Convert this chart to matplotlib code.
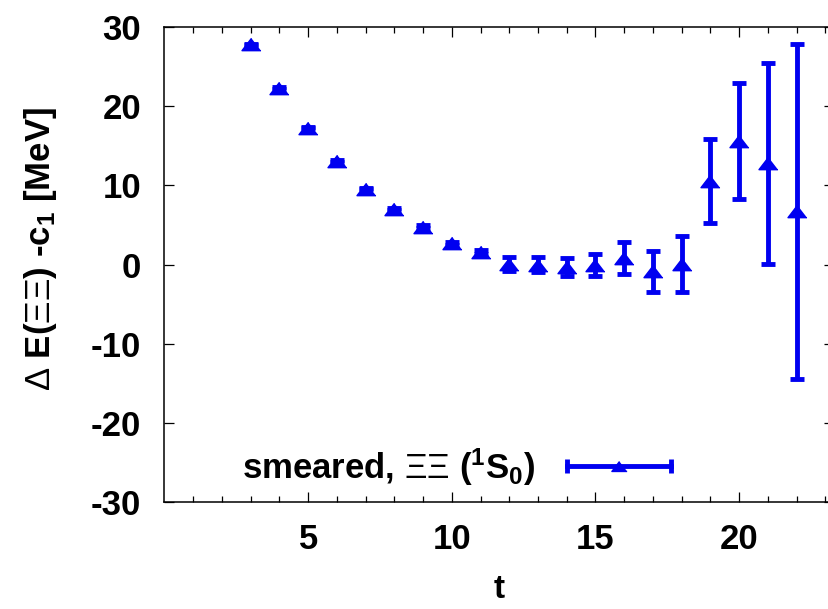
import numpy as np
import matplotlib
matplotlib.use("Agg")
from matplotlib import pyplot as plt
from matplotlib.lines import Line2D
from matplotlib.legend_handler import HandlerBase
from matplotlib.container import ErrorbarContainer

plt.rcParams['font.family'] = ['Liberation Sans', 'DejaVu Sans']
plt.rcParams['mathtext.fontset'] = 'custom'
plt.rcParams['mathtext.rm'] = 'Liberation Sans'
plt.rcParams['mathtext.bf'] = 'Liberation Sans:bold'
plt.rcParams['mathtext.it'] = 'Liberation Sans:italic'
plt.rcParams['axes.unicode_minus'] = False

# data
t = [3, 4, 5, 6, 7, 8, 9, 10, 11, 12, 13, 14, 15, 16, 17, 18, 19, 20, 21, 22]
dE = [27.8, 22.3, 17.3, 13.1, 9.6, 7.0, 4.8, 2.7, 1.6, 0.1, 0.0, -0.35, -0.05, 0.8,
      -0.85, 0.1, 10.6, 15.6, 12.8, 6.7]
dE_err = [0.1, 0.1, 0.1, 0.1, 0.1, 0.12, 0.15, 0.2, 0.25, 0.9, 0.95, 1.15, 1.35, 2.0,
          2.6, 3.55, 5.3, 7.3, 12.7, 21.2]

blue = '#0000f0'
tri = [(0, 0.65), (-1, -0.65), (1, -0.65)]


class HorizontalBar(HandlerBase):
    # gnuplot style key sample: horizontal bar with caps and point in the middle
    def create_artists(self, legend, orig_handle, xdescent, ydescent, width, height,
                       fontsize, trans):
        y = (height - ydescent) / 2.
        x0, x1 = -xdescent, width - xdescent
        bar = Line2D([x0, x1], [y, y], color=blue, lw=3.5)
        caps = Line2D([x0, x1], [y, y], ls='none', marker='|', ms=10, mew=3.5, color=blue)
        mid = Line2D([(x0 + x1) / 2], [y], ls='none', marker=tri, ms=11, color=blue)
        for a in (bar, caps, mid):
            a.set_transform(trans)
        return [bar, caps, mid]


fig = plt.figure(figsize=(8.29, 6.09), dpi=100)
ax = fig.add_axes([164.5 / 829, 107 / 609, 669.4 / 829, 475 / 609])

eb = ax.errorbar(t, dE, yerr=dE_err, fmt='none', ecolor=blue, elinewidth=3.5,
                 capsize=5, capthick=3.5)
ax.plot(t, dE, ls='none', marker=tri, ms=13.7, color=blue)

ax.set_xlim(0, 23.3)
ax.set_ylim(-30, 30)
ax.set_xticks([5, 10, 15, 20])
ax.set_xticks(np.arange(1, 24), minor=True)
ax.set_yticks(np.arange(-30, 31, 10))

ax.tick_params(which='both', direction='in', top=True, right=True, width=0.9)
ax.tick_params(which='major', length=7)
ax.tick_params(which='minor', length=4)
ax.tick_params(axis='x', pad=15, labelsize=25)
ax.tick_params(axis='y', pad=17, labelsize=25)
for lab in ax.get_xticklabels() + ax.get_yticklabels():
    lab.set_fontweight('bold')
for s in ax.spines.values():
    s.set_linewidth(1.1)

ax.set_xlabel('t', fontsize=24, fontweight='bold', labelpad=13)
ax.set_ylabel(r'$\Delta$ E($\Xi\Xi$) -c$_\mathbf{1}$ [MeV]', fontsize=25,
              fontweight='bold')
ax.yaxis.set_label_coords(-0.158, 0.533)

ax.legend([eb], [r'smeared, $\Xi\Xi$ ($^\mathbf{1}$S$_\mathbf{0}$)'],
          handler_map={ErrorbarContainer: HorizontalBar()},
          loc='lower left', bbox_to_anchor=(0.085, -0.014), markerfirst=False,
          frameon=False, handlelength=3.0, handletextpad=0.9, borderaxespad=0.2,
          prop={'weight': 'bold', 'size': 25})

fig.savefig('out.png', dpi=100)
